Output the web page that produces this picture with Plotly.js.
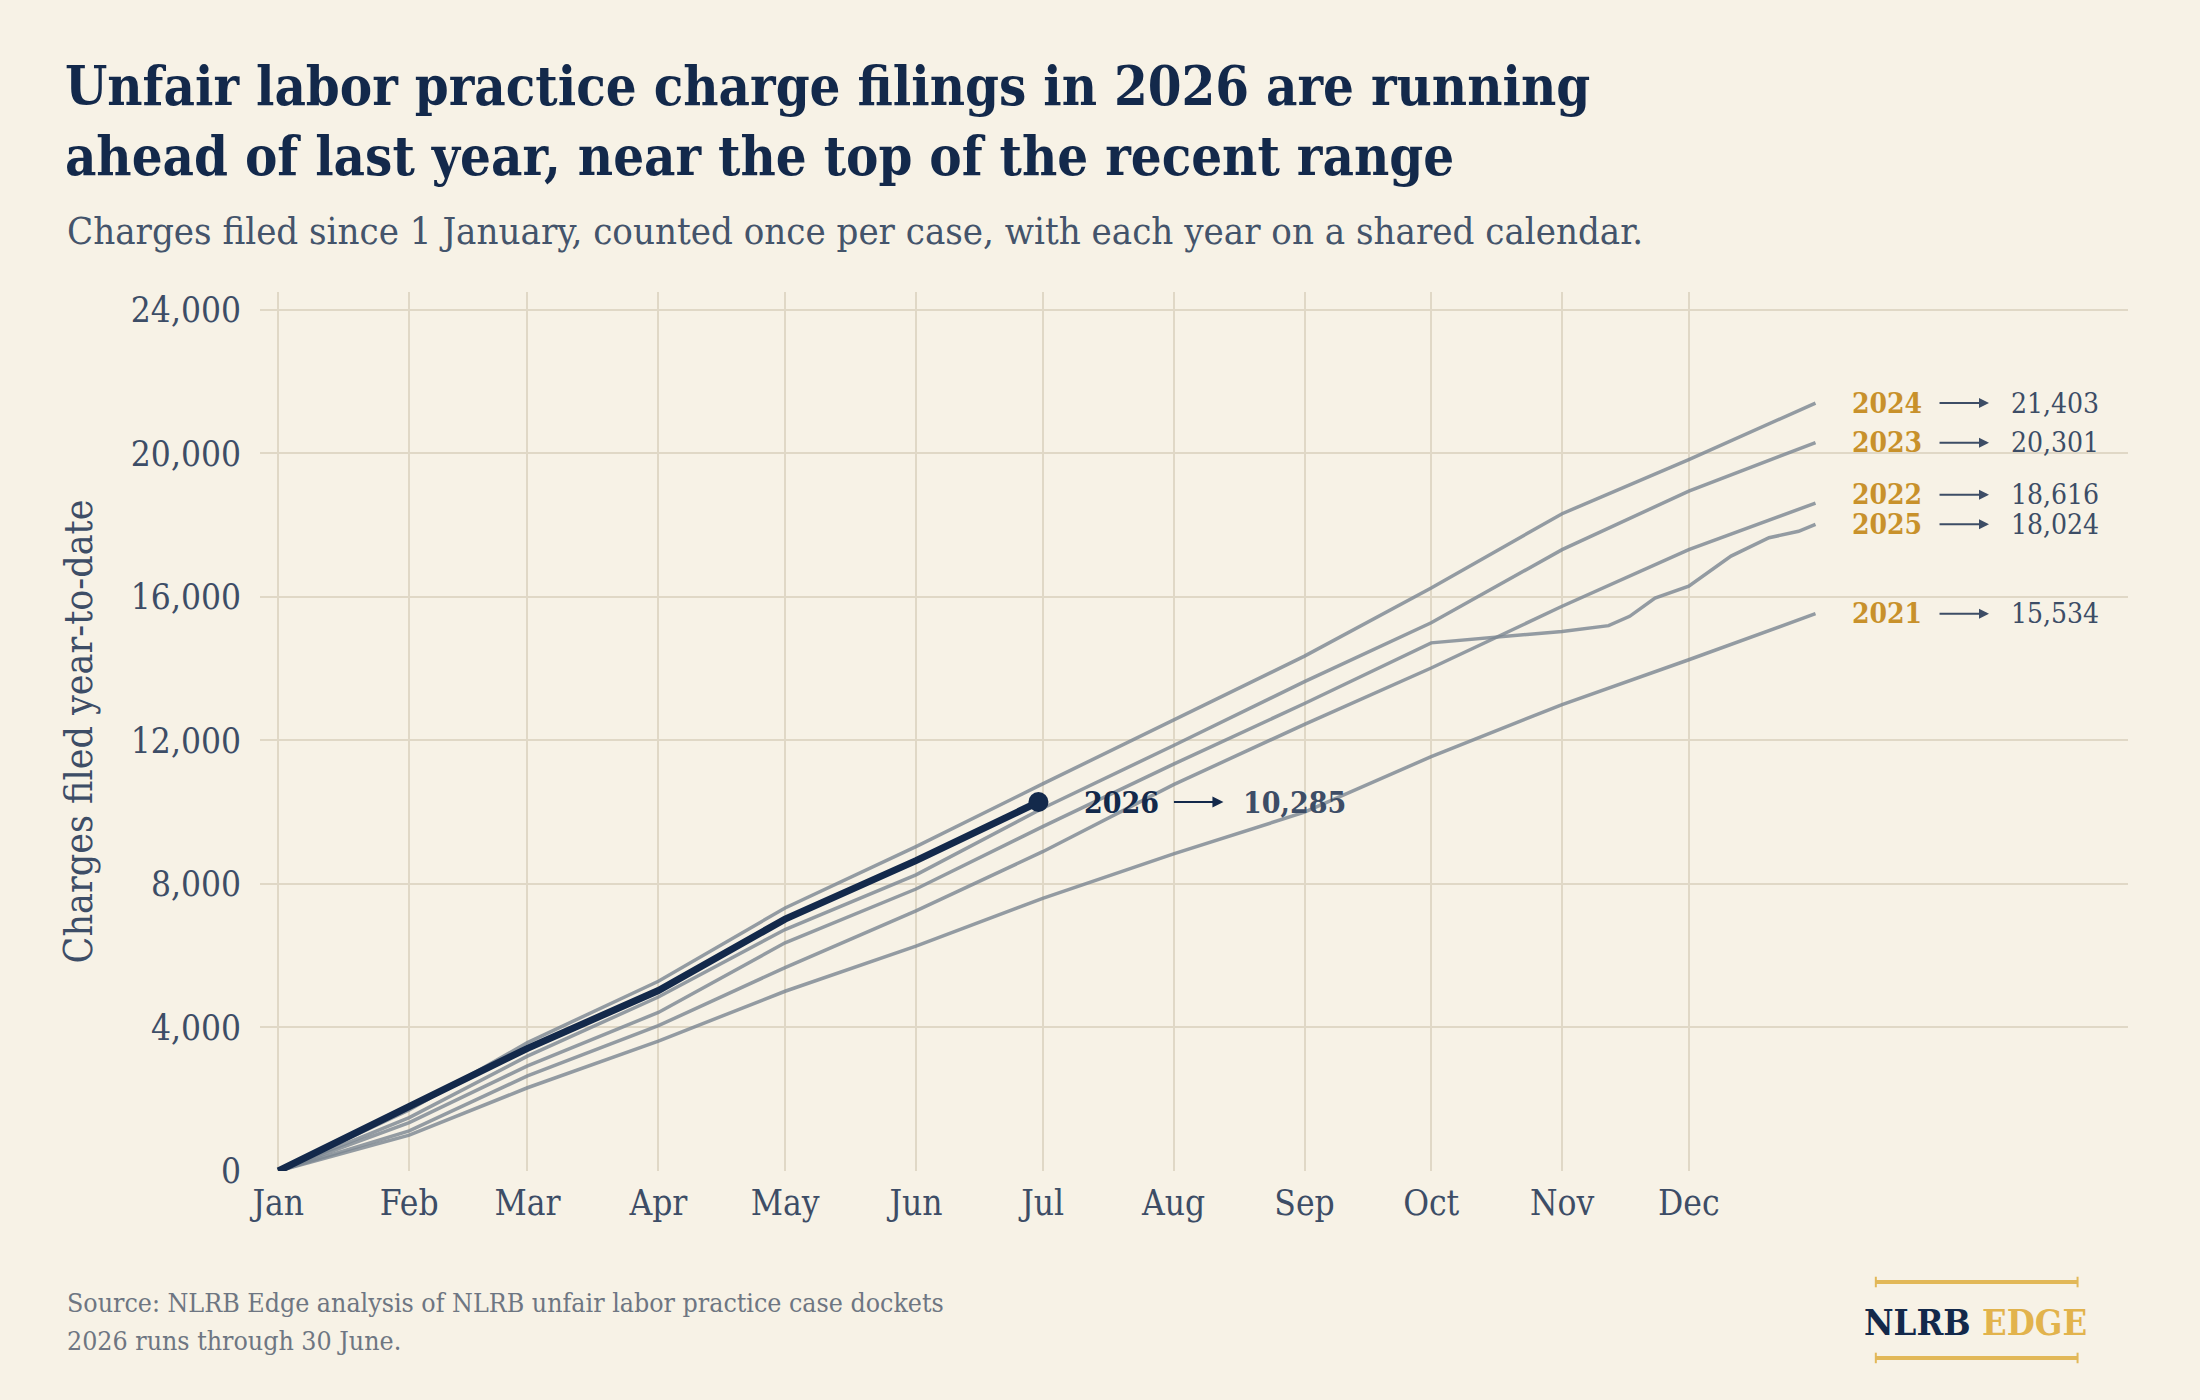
<!DOCTYPE html>
<html>
<head>
<meta charset="utf-8">
<script src="https://cdn.plot.ly/plotly-3.0.1.min.js"></script>
<style>
  html, body { margin: 0; padding: 0; background: #F7F2E6; }
  #myPlot { width: 2200px; height: 1400px; }
</style>
</head>
<body>
<div id="myPlot"></div>
<script>
// shared calendar: every year is drawn on 2026 dates
var dates = ['2026-01-01', '2026-02-01', '2026-03-01', '2026-04-01', '2026-05-01', '2026-06-01',
             '2026-07-01', '2026-08-01', '2026-09-01', '2026-10-01', '2026-11-01', '2026-12-01', '2026-12-31'];

var y2021 = [0, 1000, 2320, 3620, 5010, 6270, 7600, 8840, 10000, 11550, 13000, 14250, 15534];
var y2022 = [0, 1120, 2650, 4050, 5670, 7250, 8900, 10770, 12450, 14020, 15740, 17320, 18616];
var y2023 = [0, 1490, 3200, 4850, 6730, 8255, 10110, 11860, 13640, 15280, 17320, 18950, 20301];
var y2024 = [0, 1700, 3580, 5290, 7330, 9040, 10790, 12560, 14350, 16250, 18320, 19830, 21403];

// 2025 stalls in October, so it gets a few extra readings
var dates2025 = ['2026-01-01', '2026-02-01', '2026-03-01', '2026-04-01', '2026-05-01', '2026-06-01',
                 '2026-07-01', '2026-08-01', '2026-09-01', '2026-10-01', '2026-11-01', '2026-11-12',
                 '2026-11-17', '2026-11-23', '2026-12-01', '2026-12-11', '2026-12-20', '2026-12-27', '2026-12-31'];
var y2025 = [0, 1350, 2930, 4420, 6360, 7860, 9600, 11340, 13030, 14720, 15040, 15200,
             15460, 15970, 16300, 17140, 17650, 17830, 18024];

var dates2026 = ['2026-01-01', '2026-02-01', '2026-03-01', '2026-04-01', '2026-05-01', '2026-06-01', '2026-06-30'];
var y2026 = [0, 1780, 3420, 5030, 7020, 8650, 10285];

var monthTicks = ['2026-01-01', '2026-02-01', '2026-03-01', '2026-04-01', '2026-05-01', '2026-06-01',
                  '2026-07-01', '2026-08-01', '2026-09-01', '2026-10-01', '2026-11-01', '2026-12-01'];
var monthLabels = ['Jan', 'Feb', 'Mar', 'Apr', 'May', 'Jun', 'Jul', 'Aug', 'Sep', 'Oct', 'Nov', 'Dec'];
var yTicks = [0, 4000, 8000, 12000, 16000, 20000, 24000];

var pastYears = [
  {name: '2021', x: dates, y: y2021},
  {name: '2022', x: dates, y: y2022},
  {name: '2023', x: dates, y: y2023},
  {name: '2024', x: dates, y: y2024},
  {name: '2025', x: dates2025, y: y2025}
];
// 2022 and 2025 finish close together, lift the 2022 label a little
var labelNudge = {'2022': 230};

var FONT = '"DejaVu Serif Condensed", "DejaVu Serif", serif';
var NAVY = '#13294B';
var SLATE = '#3D4D66';
var GOLD = '#C8912B';
var GRID = '#E0D8C6';

var traces = [];
var annotations = [];

for (var i = 0; i < pastYears.length; i++) {
  var s = pastYears[i];
  traces.push({
    x: s.x, y: s.y, name: s.name, type: 'scatter', mode: 'lines',
    line: {color: 'rgba(125,136,147,0.82)', width: 3.5},
    hoverinfo: 'skip'
  });
  var last = s.y[s.y.length - 1];
  var ly = last + (labelNudge[s.name] || 0);
  annotations.push({
    xref: 'paper', yref: 'y', x: 0.851, y: ly, xanchor: 'left', yanchor: 'middle',
    text: '<b>' + s.name + '</b>', showarrow: false,
    font: {family: FONT, size: 28, color: GOLD}
  });
  annotations.push({
    xref: 'paper', yref: 'y', x: 0.9256, y: ly, ax: -51, ay: 0, text: '',
    showarrow: true, arrowhead: 2, arrowsize: 1, arrowwidth: 2, arrowcolor: SLATE
  });
  annotations.push({
    xref: 'paper', yref: 'y', x: 0.9363, y: ly, xanchor: 'left', yanchor: 'middle',
    text: last.toLocaleString('en-US'), showarrow: false,
    font: {family: FONT, size: 28, color: SLATE}
  });
}

var lastDate = dates2026[dates2026.length - 1];
var lastVal = y2026[y2026.length - 1];

traces.push({
  x: dates2026, y: y2026, name: '2026', type: 'scatter', mode: 'lines',
  line: {color: NAVY, width: 7}, hoverinfo: 'skip'
});
traces.push({
  x: [lastDate], y: [lastVal], type: 'scatter', mode: 'markers',
  marker: {color: NAVY, size: 20}, hoverinfo: 'skip'
});

annotations.push({
  x: lastDate, y: lastVal, xanchor: 'left', yanchor: 'middle', xshift: 44,
  text: '<b>2026</b>', showarrow: false, font: {family: FONT, size: 30, color: NAVY}
});
annotations.push({
  x: lastDate, y: lastVal, ax: -51, ay: 0, xshift: 185, text: '',
  showarrow: true, arrowhead: 2, arrowsize: 1, arrowwidth: 2.2, arrowcolor: NAVY
});
annotations.push({
  x: lastDate, y: lastVal, xanchor: 'left', yanchor: 'middle', xshift: 203,
  text: '<b>' + lastVal.toLocaleString('en-US') + '</b>', showarrow: false,
  font: {family: FONT, size: 30, color: SLATE}
});

// subtitle and footer
annotations.push({
  xref: 'paper', yref: 'paper', x: -0.1044, y: 1.069, xanchor: 'left', yanchor: 'middle',
  text: 'Charges filed since 1 January, counted once per case, with each year on a shared calendar.',
  showarrow: false, font: {family: FONT, size: 38, color: '#44546B'}
});
annotations.push({
  xref: 'paper', yref: 'paper', x: -0.1044, y: -0.150, xanchor: 'left', yanchor: 'middle',
  text: 'Source: NLRB Edge analysis of NLRB unfair labor practice case dockets',
  showarrow: false, font: {family: FONT, size: 26.5, color: '#6E7682'}
});
annotations.push({
  xref: 'paper', yref: 'paper', x: -0.1044, y: -0.1923, xanchor: 'left', yanchor: 'middle',
  text: '2026 runs through 30 June.',
  showarrow: false, font: {family: FONT, size: 26.5, color: '#6E7682'}
});
annotations.push({
  xref: 'paper', yref: 'paper', x: 0.9186, y: -0.1718, xanchor: 'center', yanchor: 'middle',
  text: '<b><span style="color:' + NAVY + '">NLRB</span> <span style="color:#E2B34C">EDGE</span></b>',
  showarrow: false, font: {family: FONT, size: 36, color: NAVY}
});

var logoGold = '#E2B858';
var shapes = [];
[-0.1263, -0.2127].forEach(function (yy) {
  shapes.push({type: 'line', xref: 'paper', yref: 'paper', x0: 0.865, x1: 0.973, y0: yy, y1: yy,
               line: {color: logoGold, width: 4}});
  [0.865, 0.973].forEach(function (xx) {
    shapes.push({type: 'line', xref: 'paper', yref: 'paper', x0: xx, x1: xx, y0: yy - 0.006, y1: yy + 0.006,
                 line: {color: logoGold, width: 2}});
  });
});

var layout = {
  width: 2200, height: 1400,
  paper_bgcolor: '#F7F2E6', plot_bgcolor: '#F7F2E6',
  margin: {l: 260, r: 72, t: 292, b: 229},
  showlegend: false,
  font: {family: FONT, color: SLATE},
  title: {
    text: '<b>Unfair labor practice charge filings in 2026 are running<br>ahead of last year, near the top of the recent range</b>',
    font: {family: FONT, size: 54, color: NAVY},
    xref: 'container', yref: 'container', x: 0.0295, xanchor: 'left', y: 0.925, yanchor: 'top'
  },
  xaxis: {
    type: 'date',
    range: ['2025-12-27 16:00', '2027-03-15'],
    tickvals: monthTicks, ticktext: monthLabels,
    showgrid: true, gridcolor: GRID, gridwidth: 2,
    zeroline: false, showline: false, ticks: '',
    ticklabelstandoff: 8,
    tickfont: {family: FONT, size: 35, color: SLATE}
  },
  yaxis: {
    range: [0, 24500],
    tickvals: yTicks, tickformat: ',d',
    showgrid: true, gridcolor: GRID, gridwidth: 2,
    zeroline: false, showline: false, ticks: '',
    ticklabelstandoff: 18,
    tickfont: {family: FONT, size: 35, color: SLATE},
    title: {text: 'Charges filed year-to-date', standoff: 26,
            font: {family: FONT, size: 39, color: SLATE}}
  },
  annotations: annotations,
  shapes: shapes
};

Plotly.newPlot('myPlot', traces, layout, {displayModeBar: false, staticPlot: true});
</script>
</body>
</html>
